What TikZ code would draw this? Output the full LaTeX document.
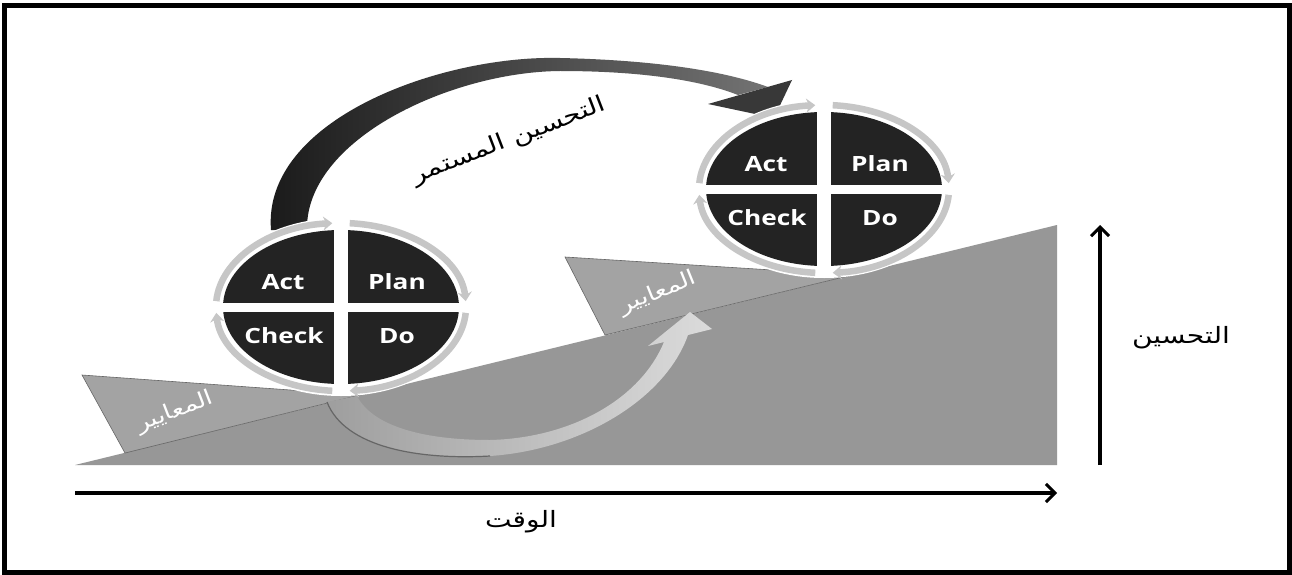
\documentclass[tikz,border=0pt]{standalone}
\usepackage{fontspec}
\setmainfont{DejaVu Sans}
\newfontfamily\arabicfont[Script=Arabic,FakeStretch=1.25]{DejaVu Sans}
\newfontfamily\pdcafont[FakeStretch=1.25]{Open Sans}
\TeXXeTstate=1
\usetikzlibrary{arrows.meta}
\definecolor{groundgray}{HTML}{979797}
\definecolor{wedgegray}{HTML}{A3A3A3}
\definecolor{quadgray}{HTML}{232323}
\definecolor{ringgray}{HTML}{C6C6C6}
\tikzset{
  ground/.style={fill=groundgray},
  wedge/.style={fill=wedgegray, draw=gray!80!black, line width=0.6},
  quad/.style={fill=quadgray},
  ringarrow/.style={draw=ringgray, line width=6.5, -{Stealth[length=9,width=14]}},
  pdcatext/.style={text=white, inner sep=0, font=\pdcafont\bfseries\fontsize{21}{24}\selectfont},
  axisarrow/.style={draw=black, line width=3.2, -{Straight Barb[length=9,width=18,line width=3]}},
  arlabel/.style={inner sep=0, font=\arabicfont\fontsize{22.5}{26}\selectfont},
  stdlabel/.style={inner sep=0, text=white, font=\arabicfont\fontsize{21}{24}\selectfont},
}
\newcommand\pdcacircle[3]{%
  \begin{scope}[shift={(#2,#3)}]
    \fill[white] (0,0) ellipse [x radius=130, y radius=89];
    \fill[quad] (0,0) ellipse [x radius=118, y radius=77];
    \begin{scope}
      \clip (0,0) ellipse [x radius=130, y radius=89];
      \fill[white] (-7,-95) rectangle (7,95);
      \fill[white] (-140,-4.5) rectangle (140,4.5);
    \end{scope}
    \draw[ringarrow] (184:125 and 84) arc[start angle=184, end angle=266, x radius=125, y radius=84];
    \draw[ringarrow] (274:125 and 84) arc[start angle=274, end angle=356, x radius=125, y radius=84];
    \draw[ringarrow] (4:125 and 84) arc[start angle=4, end angle=86, x radius=125, y radius=84];
    \draw[ringarrow] (94:125 and 84) arc[start angle=94, end angle=176, x radius=125, y radius=84];
    \node[pdcatext] (#1act) at (-58,-25) {Act};
    \node[pdcatext] (#1plan) at (56,-25) {Plan};
    \node[pdcatext] (#1check) at (-57,29) {Check};
    \node[pdcatext] (#1do) at (56,29) {Do};
  \end{scope}}
\begin{document}
\begin{tikzpicture}[x=1pt,y=-1pt]
\useasboundingbox (0,0) rectangle (1292,575);
\fill[white] (0,0) rectangle (1292,575);
% ground
\fill[ground] (75,465) -- (1057,465) -- (1057,225) -- cycle;
% standards wedges
\path[wedge] (82,375) -- (360,395) -- (125,453) -- cycle;
\path[wedge] (565,257) -- (852,275) -- (605,335) -- cycle;
\node[stdlabel, rotate=21] (std1) at (175,412) {\beginR المعايير\endR};
\node[stdlabel, rotate=22] (std2) at (658,293) {\beginR المعايير\endR};
% lower curved arrow
\shade[left color=black!38, middle color=black!30, right color=black!14]
  (327,402) .. controls (345,448) and (420,460) .. (490,456)
  .. controls (580,450) and (665,400) .. (688,335)
  -- (712,329) -- (690,312) -- (648,346) -- (664,342)
  .. controls (640,400) and (570,438) .. (490,440)
  .. controls (420,440) and (372,425) .. (357,396) -- cycle;
\draw[black!60, line width=1.2] (327,402) .. controls (345,448) and (420,460) .. (490,456);
% big curved arrow
\shade[left color=black!90, middle color=black!22, right color=black!55]
  (271,230) .. controls (262,120) and (440,55) .. (560,58)
  .. controls (650,60) and (722,70) .. (768,87)
  -- (738,95)
  .. controls (700,80) and (640,71) .. (560,71)
  .. controls (450,72) and (305,140) .. (307,230) -- cycle;
\fill[black!78] (708,104) -- (792,80) -- (774,118) -- cycle;
\node[arlabel, rotate=21] (ci) at (509,141) {\beginR التحسين المستمر\endR};
% PDCA cycles
\pdcacircle{c1}{341}{307}
\pdcacircle{c2}{824}{189}
% axes
\coordinate (t0) at (75,493);
\coordinate (t1) at (1057,493);
\draw[axisarrow] (t0) -- (t1);
\coordinate (i0) at (1100,465);
\coordinate (i1) at (1100,225);
\draw[axisarrow] (i0) -- (i1);
\node[arlabel] (time) at (521,522) {\beginR الوقت\endR};
\node[arlabel] (impr) at (1181,338) {\beginR التحسين\endR};
% frame
\draw[line width=5] (4.5,5.5) rectangle (1289.5,572.5);
\end{tikzpicture}
\end{document}
